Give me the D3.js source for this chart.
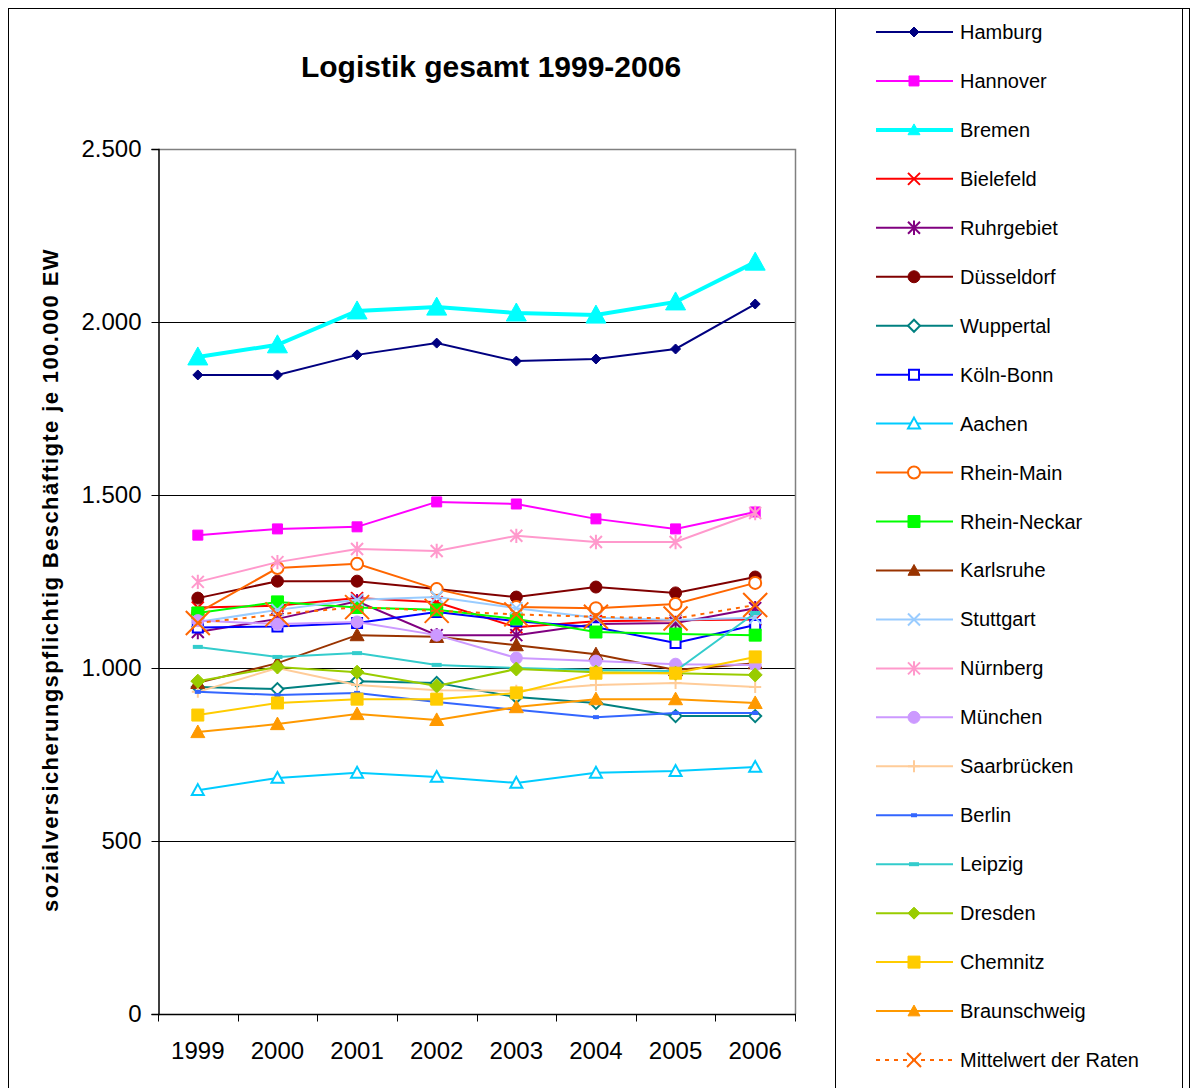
<!DOCTYPE html>
<html>
<head>
<meta charset="utf-8">
<script src="https://cdn.jsdelivr.net/npm/d3@7"></script>
<style>
  body { margin: 0; background: #fff; }
  svg { font-family: "Liberation Sans", Arial, sans-serif; }
</style>
</head>
<body>
<svg id="mainsvg" width="1191" height="1088"></svg>
<script>
(function () {
  // Jahre und Reihen
  const years = ['1999', '2000', '2001', '2002', '2003', '2004', '2005', '2006'];
  const yTicks = [0, 500, 1000, 1500, 2000, 2500];

  const hamburg      = [1847, 1847, 1905, 1939, 1887, 1893, 1922, 2052];
  const hannover     = [1384, 1402, 1408, 1480, 1474, 1431, 1402, 1451];
  const bremen       = [1899, 1934, 2032, 2043, 2026, 2020, 2058, 2173];
  const bielefeld    = [1175, 1180, 1202, 1190, 1118, 1135, 1138, 1140];
  const ruhrgebiet   = [1104, 1142, 1193, 1095, 1095, 1127, 1130, 1173];
  const duesseldorf  = [1202, 1251, 1251, 1228, 1205, 1234, 1217, 1263];
  const wuppertal    = [945, 939, 962, 957, 916, 899, 861, 861];
  const koelnBonn    = [1117, 1120, 1130, 1162, 1135, 1118, 1072, 1124];
  const aachen       = [647, 682, 697, 685, 668, 697, 702, 714];
  const rheinMain    = [1159, 1289, 1301, 1228, 1176, 1173, 1185, 1246];
  const rheinNeckar  = [1159, 1191, 1175, 1168, 1142, 1104, 1098, 1095];
  const karlsruhe    = [957, 1014, 1095, 1090, 1066, 1040, 994, 1014];
  const stuttgart    = [1133, 1168, 1197, 1205, 1173, 1145, 1139, 1145];
  const nuernberg    = [1249, 1306, 1344, 1338, 1382, 1364, 1364, 1448];
  const muenchen     = [1137, 1127, 1133, 1095, 1029, 1020, 1011, 1009];
  const saarbruecken = [931, 1000, 951, 936, 934, 951, 957, 945];
  const berlin       = [931, 922, 928, 902, 879, 858, 870, 870];
  const leipzig      = [1061, 1032, 1043, 1009, 1000, 994, 991, 1159];
  const dresden      = [962, 1003, 988, 948, 997, 988, 985, 980];
  const chemnitz     = [864, 899, 910, 910, 928, 985, 985, 1032];
  const braunschweig = [815, 838, 867, 850, 887, 910, 910, 899];
  const mittelwert   = [1130, 1155, 1176, 1165, 1155, 1148, 1143, 1182];

  const series = [
    { name: 'Hamburg', values: hamburg, color: '#000080', marker: 'diamond', size: 5, fill: true },
    { name: 'Hannover', values: hannover, color: '#FF00FF', marker: 'square', size: 5, fill: true },
    { name: 'Bremen', values: bremen, color: '#00FFFF', marker: 'triangle', size: 10, fill: true, width: 4 },
    { name: 'Bielefeld', values: bielefeld, color: '#FF0000', marker: 'x', size: 6 },
    { name: 'Ruhrgebiet', values: ruhrgebiet, color: '#800080', marker: 'asterisk', size: 6 },
    { name: 'Düsseldorf', values: duesseldorf, color: '#800000', marker: 'circle', size: 6, fill: true },
    { name: 'Wuppertal', values: wuppertal, color: '#008080', marker: 'diamond', size: 6, fill: false },
    { name: 'Köln-Bonn', values: koelnBonn, color: '#0000FF', marker: 'square', size: 5, fill: false },
    { name: 'Aachen', values: aachen, color: '#00CCFF', marker: 'triangle', size: 6, fill: false },
    { name: 'Rhein-Main', values: rheinMain, color: '#FF6600', marker: 'circle', size: 6, fill: false },
    { name: 'Rhein-Neckar', values: rheinNeckar, color: '#00FF00', marker: 'square', size: 6, fill: true },
    { name: 'Karlsruhe', values: karlsruhe, color: '#993300', marker: 'triangle', size: 7, fill: true },
    { name: 'Stuttgart', values: stuttgart, color: '#99CCFF', marker: 'x', size: 6 },
    { name: 'Nürnberg', values: nuernberg, color: '#FF99CC', marker: 'asterisk', size: 6 },
    { name: 'München', values: muenchen, color: '#CC99FF', marker: 'circle', size: 6, fill: true },
    { name: 'Saarbrücken', values: saarbruecken, color: '#FFCC99', marker: 'plus', size: 6 },
    { name: 'Berlin', values: berlin, color: '#3366FF', marker: 'dash', size: 3 },
    { name: 'Leipzig', values: leipzig, color: '#33CCCC', marker: 'dash', size: 5 },
    { name: 'Dresden', values: dresden, color: '#99CC00', marker: 'diamond', size: 7, fill: true },
    { name: 'Chemnitz', values: chemnitz, color: '#FFCC00', marker: 'square', size: 6, fill: true },
    { name: 'Braunschweig', values: braunschweig, color: '#FF9900', marker: 'triangle', size: 7, fill: true },
    { name: 'Mittelwert der Raten', values: mittelwert, color: '#FF6600', marker: 'x', size: 12, dash: '4,5' }
  ];

  const svg = d3.select('#mainsvg');
  const plot = { left: 158, right: 795, top: 149, bottom: 1014 };

  // Rahmen
  svg.append('rect').attr('x', 8.5).attr('y', 8.5).attr('width', 1181).attr('height', 1090)
    .attr('fill', 'none').attr('stroke', '#000').attr('stroke-width', 1);

  const x = d3.scalePoint().domain(years).range([plot.left, plot.right]).padding(0.5);
  const xBand = d3.scaleBand().domain(years).range([plot.left, plot.right]);
  const y = d3.scaleLinear().domain([0, 2500]).range([plot.bottom, plot.top]);

  const de = d3.formatLocale({ decimal: ',', thousands: '.', grouping: [3], currency: ['', '€'] });

  // Gitternetz
  svg.append('g').selectAll('line').data(yTicks.filter(d => d > 0 && d < 2500)).join('line')
    .attr('x1', plot.left).attr('x2', plot.right)
    .attr('y1', d => Math.round(y(d)) + 0.5).attr('y2', d => Math.round(y(d)) + 0.5)
    .attr('stroke', '#000').attr('stroke-width', 1);

  svg.append('path')
    .attr('d', `M${plot.left},${plot.top + 0.5}H${plot.right + 0.5}V${plot.bottom}`)
    .attr('fill', 'none').attr('stroke', '#808080').attr('stroke-width', 1.5);

  const yAxis = svg.append('g').attr('transform', `translate(${plot.left + 0.5},0)`)
    .call(d3.axisLeft(y).tickValues(yTicks).tickSize(7).tickPadding(10).tickFormat(de.format(',')));
  yAxis.select('.domain').attr('stroke', '#000').attr('stroke-width', 1.5);
  yAxis.selectAll('.tick text').attr('font-size', '24px').attr('fill', '#000');

  const xAxis = svg.append('g').attr('transform', `translate(0,${plot.bottom + 0.5})`);
  xAxis.append('line').attr('x1', plot.left).attr('x2', plot.right + 1)
    .attr('stroke', '#000').attr('stroke-width', 1.5);
  xAxis.selectAll('line.tk').data(years.map(d => xBand(d)).concat([plot.right])).join('line')
    .attr('class', 'tk')
    .attr('x1', d => Math.round(d) + 0.5).attr('x2', d => Math.round(d) + 0.5)
    .attr('y1', 0).attr('y2', 7).attr('stroke', '#000');
  xAxis.selectAll('text').data(years).join('text')
    .attr('x', d => x(d)).attr('y', 44)
    .attr('text-anchor', 'middle').attr('font-size', '24px').text(d => d);

  function markerPath(type, s) {
    switch (type) {
      case 'diamond': return `M0,${-s}L${s},0L0,${s}L${-s},0Z`;
      case 'square': return `M${-s},${-s}h${2 * s}v${2 * s}h${-2 * s}Z`;
      case 'triangle': return `M0,${-s}L${s},${s * 0.8}L${-s},${s * 0.8}Z`;
      case 'circle': return `M${s},0A${s},${s} 0 1 1 ${-s},0A${s},${s} 0 1 1 ${s},0Z`;
      case 'x': return `M${-s},${-s}L${s},${s}M${-s},${s}L${s},${-s}`;
      case 'asterisk': return `M${-s},${-s}L${s},${s}M${-s},${s}L${s},${-s}M0,${-s * 1.2}V${s * 1.2}`;
      case 'plus': return `M${-s},0H${s}M0,${-s}V${s}`;
      case 'dash': return `M${-s},0H${s}`;
    }
  }

  function drawMarker(sel, s, size) {
    const open = ['x', 'asterisk', 'plus', 'dash'].includes(s.marker);
    sel.attr('d', markerPath(s.marker, size))
      .attr('fill', open ? 'none' : (s.fill ? s.color : '#fff'))
      .attr('stroke', s.color)
      .attr('stroke-width', s.marker === 'dash' ? 4 : (open ? 2 : (s.fill ? 1 : 2)));
  }

  const line = d3.line().x((d, i) => x(years[i])).y(d => y(d));

  series.forEach(s => {
    const g = svg.append('g');
    g.append('path').attr('d', line(s.values))
      .attr('fill', 'none').attr('stroke', s.color)
      .attr('stroke-width', s.width || 2)
      .attr('stroke-dasharray', s.dash || null);
    s.values.forEach((v, i) => {
      g.append('path').attr('transform', `translate(${x(years[i])},${y(v)})`)
        .call(drawMarker, s, s.size);
    });
  });

  // Titel
  svg.append('text').attr('x', 491).attr('y', 77).attr('text-anchor', 'middle')
    .attr('font-size', '30px').attr('font-weight', 'bold').text('Logistik gesamt 1999-2006');

  svg.append('text').attr('transform', 'translate(58,580) rotate(-90)')
    .attr('text-anchor', 'middle').attr('font-size', '22px').attr('font-weight', 'bold')
    .attr('letter-spacing', '1.4px')
    .text('sozialversicherungspflichtig Beschäftigte je 100.000 EW');

  // Legende
  const legend = svg.append('g');
  legend.append('rect').attr('x', 835.5).attr('y', 8.5).attr('width', 347).attr('height', 1090)
    .attr('fill', '#fff').attr('stroke', '#000');
  const ly = d3.scalePoint().domain(series.map(s => s.name)).range([32, 1060]);
  series.forEach(s => {
    const row = legend.append('g').attr('transform', `translate(0,${ly(s.name)})`);
    row.append('line').attr('x1', 876).attr('x2', 953)
      .attr('stroke', s.color).attr('stroke-width', s.width || 2)
      .attr('stroke-dasharray', s.dash || null);
    row.append('path').attr('transform', 'translate(914,0)')
      .call(drawMarker, s, Math.min(s.size, s.marker === 'x' && s.dash ? 7 : 6));
    row.append('text').attr('x', 960).attr('y', 7).attr('font-size', '20px').text(s.name);
  });
})();
</script>
</body>
</html>
